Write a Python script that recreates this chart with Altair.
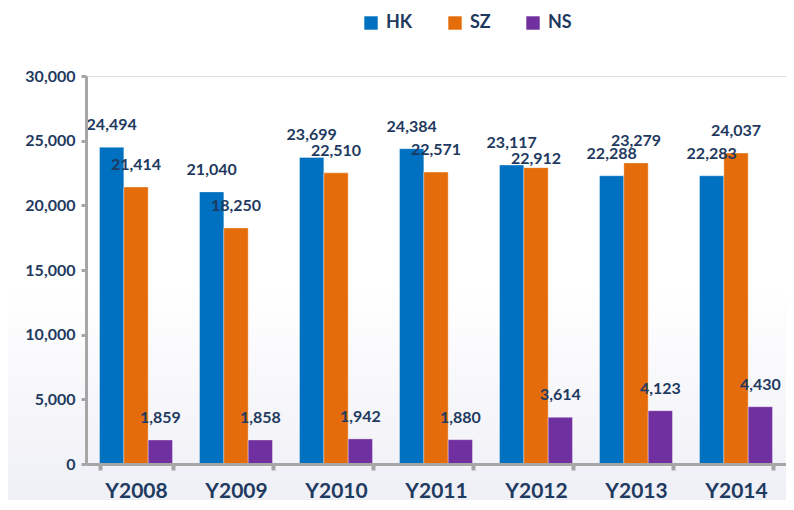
import altair as alt
import pandas as pd

years = ["Y2008", "Y2009", "Y2010", "Y2011", "Y2012", "Y2013", "Y2014"]
series = ["HK", "SZ", "NS"]
hk = [24494, 21040, 23699, 24384, 23117, 22288, 22283]
sz = [21414, 18250, 22510, 22571, 22912, 23279, 24037]
ns = [1859, 1858, 1942, 1880, 3614, 4123, 4430]
colors = ["#0070C0", "#E46C0A", "#7030A0"]
y_ticks = [0, 5000, 10000, 15000, 20000, 25000, 30000]

rows = []
for i, yr in enumerate(years):
    for s, vals in zip(series, [hk, sz, ns]):
        rows.append({"year": yr, "series": s, "value": vals[i]})
df = pd.DataFrame(rows)

W, H = 700, 388
navy = "#1F3A60"
gray = "#A6A6A6"
font = "Lato"

x_enc = alt.X(
    "year:N", sort=years, title=None,
    scale=alt.Scale(paddingInner=0.27, paddingOuter=0.135),
    axis=alt.Axis(
        labelFont=font, labelFontSize=21, labelFontWeight="bold", labelColor=navy,
        labelAngle=0, labelPadding=10,
        domainColor=gray, domainWidth=3,
        tickColor=gray, tickWidth=4, tickSize=6, tickBand="extent", zindex=1,
    ),
)
xo_enc = alt.XOffset("series:N", sort=series, scale=alt.Scale(paddingInner=0, paddingOuter=0))


def y_enc(field):
    return alt.Y(
        f"{field}:Q", title=None,
        scale=alt.Scale(domain=[0, 30000], nice=False),
        axis=alt.Axis(
            values=y_ticks, labelExpr="format(datum.value, ',')", grid=False,
            labelFont=font, labelFontSize=16, labelFontWeight="bold", labelColor=navy,
            labelPadding=6,
            domainColor=gray, domainWidth=3,
            tickColor=gray, tickWidth=3, tickSize=5, zindex=1,
        ),
    )


grad = alt.LinearGradient(
    gradient="linear",
    stops=[alt.GradientStop(color="#FFFFFF", offset=0), alt.GradientStop(color="#EFF0F6", offset=1)],
    x1=0, x2=0, y1=0, y2=1,
)
bg = alt.Chart(pd.DataFrame({"a": [0]})).mark_rect(color=grad).encode(
    x=alt.value(-78), x2=alt.value(W), y=alt.value(210), y2=alt.value(H + 36)
)

base = alt.Chart(df)
bars = base.mark_bar(stroke="white", strokeOpacity=0.35, strokeWidth=1).encode(
    x=x_enc, xOffset=xo_enc, y=y_enc("value"),
    color=alt.Color(
        "series:N", sort=series,
        scale=alt.Scale(domain=series, range=colors),
        legend=alt.Legend(
            title=None, orient="none", legendX=276, legendY=-62, direction="horizontal",
            symbolType="square", symbolSize=180, symbolStrokeWidth=0,
            labelFont=font, labelFontSize=18, labelFontWeight="bold", labelColor=navy,
            labelOffset=6, columnPadding=33,
        ),
    ),
)

labels = (
    base.transform_calculate(hkv="datum.series == 'HK' ? datum.value : 0")
    .transform_joinaggregate(hkmax="max(hkv)", groupby=["year"])
    .transform_calculate(
        ly="(datum.series == 'SZ' && datum.hkmax > datum.value && datum.hkmax - datum.value < 800) ? datum.value - 1000 : datum.value"
    )
    .mark_text(font=font, fontSize=16, fontWeight="bold", color=navy, baseline="alphabetic", dy=-17)
    .encode(x=x_enc, xOffset=xo_enc, y=y_enc("ly"), text=alt.Text("value:Q", format=","))
)

chart = (
    alt.layer(bg, bars, labels)
    .properties(width=W, height=H, padding={"left": 0, "right": 0, "top": 6, "bottom": 0})
    .configure_view(stroke=None)
    .configure(background="white")
)

chart.save("out.html", embed_options={"renderer": "svg", "actions": False})
